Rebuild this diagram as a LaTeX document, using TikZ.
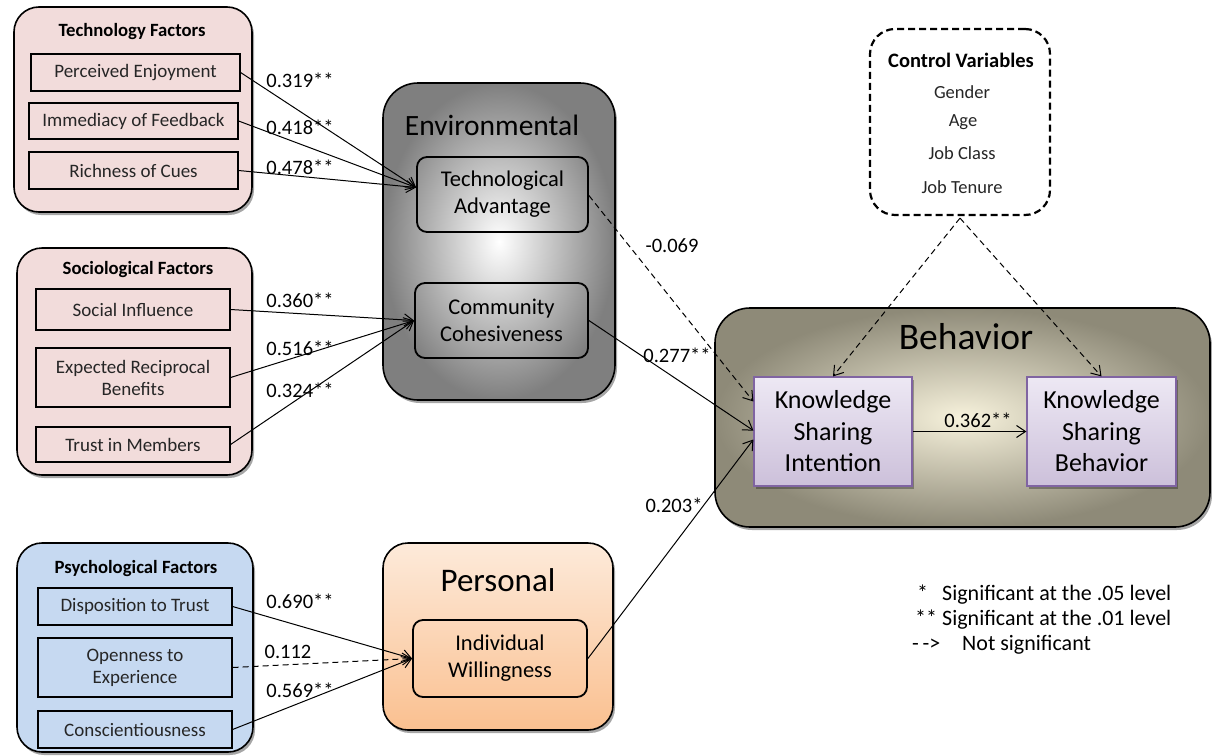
\documentclass[tikz,border=0pt]{standalone}
\usepackage{fontspec}
\setmainfont{Carlito}
\usetikzlibrary{arrows.meta,shadows}
\definecolor{pinkf}{HTML}{F2DCDB}
\definecolor{bluef}{HTML}{C6D9F1}
\definecolor{purpb}{HTML}{8064A2}
\definecolor{purpt}{HTML}{EDE8F4}
\definecolor{purpd}{HTML}{CCC0DA}
\definecolor{orat}{HTML}{FDEADA}
\definecolor{orab}{HTML}{FAC090}
\definecolor{envo}{HTML}{7F7F7F}
\definecolor{behi}{HTML}{F7F2DC}
\definecolor{beho}{HTML}{8E8A78}
\definecolor{txt}{HTML}{262626}
\begin{document}
\begin{tikzpicture}[x=1pt,y=-1pt,
  group/.style={draw, line width=1.6pt, rounded corners=25pt, inner sep=0pt,
    drop shadow={shadow xshift=2pt, shadow yshift=-3pt, opacity=0.35, fill=black}},
  item/.style={draw, line width=1.2pt, inner sep=0pt, align=center, text=txt,
    font=\fontsize{19}{22}\selectfont},
  ttl/.style={font=\bfseries\fontsize{18.7}{22}\selectfont, inner sep=0pt},
  inbox/.style={draw, line width=1.8pt, rounded corners=10pt, inner sep=0pt, align=center,
    font=\fontsize{22.5}{27}\selectfont},
  ksbox/.style={draw=purpb, line width=1.2pt, inner sep=0pt, align=center,
    top color=purpt, bottom color=purpd, font=\fontsize{26}{31.5}\selectfont,
    drop shadow={shadow xshift=2pt, shadow yshift=-3pt, opacity=0.3, fill=black}},
  big/.style={inner sep=0pt},
  lab/.style={inner sep=0pt, font=\fontsize{20.5}{23}\selectfont},
  leg/.style={inner sep=0pt, font=\fontsize{22}{24}\selectfont},
  arr/.style={line width=1pt, -{Straight Barb[length=9pt,width=12pt,line width=1pt]}},
  darr/.style={arr, dash pattern=on 6pt off 4pt},
  cv/.style={inner sep=0pt, text=txt, font=\fontsize{18.5}{21}\selectfont}
]
\useasboundingbox (0,0) rectangle (1212,755);

% ---- Technology factors
\node[group, fill=pinkf, minimum width=238pt, minimum height=205pt] (tech) at (133,109.5) {};
\node[ttl] (techt) at (132,32) {Technology Factors};
\node[item, fill=pinkf, minimum width=209pt, minimum height=37pt] (pe) at (135.5,72.5) {Perceived Enjoyment};
\node[item, fill=pinkf, minimum width=209pt, minimum height=36pt] (iof) at (133.5,121) {Immediacy of Feedback};
\node[item, fill=pinkf, minimum width=209pt, minimum height=37pt] (roc) at (133.5,170.5) {Richness of Cues};

% ---- Sociological factors
\node[group, fill=pinkf, minimum width=235pt, minimum height=227pt] (soc) at (134.5,361.5) {};
\node[ttl] (soct) at (138,270) {Sociological Factors};
\node[item, fill=pinkf, minimum width=194pt, minimum height=41pt] (si) at (133,309.5) {Social Influence};
\node[item, fill=pinkf, minimum width=194pt, minimum height=59pt] (erb) at (133,377.5) {Expected Reciprocal\\Benefits};
\node[item, fill=pinkf, minimum width=194pt, minimum height=35pt] (tim) at (133,444.5) {Trust in Members};

% ---- Psychological factors
\node[group, fill=bluef, minimum width=236pt, minimum height=209pt] (psy) at (135,647.5) {};
\node[ttl] (psyt) at (136,569) {Psychological Factors};
\node[item, fill=bluef, minimum width=194pt, minimum height=37pt] (dtt) at (135,606.5) {Disposition to Trust};
\node[item, fill=bluef, minimum width=194pt, minimum height=59pt] (ote) at (135,667.5) {Openness to\\Experience};
\node[item, fill=bluef, minimum width=194pt, minimum height=37pt] (con) at (135,729.5) {Conscientiousness};

% ---- Environmental
\node[group, rounded corners=35pt, inner color=white, outer color=envo, minimum width=232pt, minimum height=317pt] (env) at (499,241.5) {};
\node[big, font=\fontsize{29.5}{32}\selectfont] (envt) at (492,125) {Environmental};
\node[inbox, minimum width=171pt, minimum height=75pt] (ta) at (502.5,194.5) {Technological\\Advantage};
\node[inbox, minimum width=173pt, minimum height=75pt] (cc) at (501.5,320.5) {Community\\Cohesiveness};

% ---- Personal
\node[group, top color=orat, bottom color=orab, minimum width=230pt, minimum height=187pt] (per) at (498,636.5) {};
\node[big, font=\fontsize{33}{36}\selectfont] (pert) at (498,580) {Personal};
\node[inbox, minimum width=174pt, minimum height=77pt] (iw) at (500,658.5) {Individual\\Willingness};

% ---- Behavior
\node[group, rounded corners=35pt, inner color=behi, outer color=beho, minimum width=495pt, minimum height=219pt] (beh) at (962.5,417.5) {};
\node[big, font=\fontsize{37.5}{40}\selectfont] (beht) at (966,337) {Behavior};
\node[ksbox, minimum width=158pt, minimum height=109pt] (ksi) at (833,431.5) {Knowledge\\Sharing\\Intention};
\node[ksbox, minimum width=149pt, minimum height=109pt] (ksb) at (1101.5,431.5) {Knowledge\\Sharing\\Behavior};

% ---- Control variables
\node[draw, fill=white, line width=2.2pt, dash pattern=on 7pt off 4pt, rounded corners=25pt,
  minimum width=180pt, minimum height=186pt] (ctl) at (960,122) {};
\node[ttl, font=\bfseries\fontsize{20.5}{23}\selectfont] (ctlt) at (961,60) {Control Variables};
\node[cv] (gen) at (962,92) {Gender};
\node[cv] (age) at (963,122) {Age};
\node[cv] (jc) at (962,153) {Job Class};
\node[cv] (jt) at (962,187) {Job Tenure};

% ---- Connectors
\coordinate (taIn) at ([yshift=7pt]ta.west);
\coordinate (ccIn) at (cc.west);
\draw[arr] (pe.east) -- (taIn);
\draw[arr] (iof.east) -- (taIn);
\draw[arr] (roc.east) -- (taIn);
\node[lab] (l1) at (300,80) {0.319**};
\node[lab] (l2) at (300,127) {0.418**};
\node[lab] (l3) at (300,167.5) {0.478**};

\draw[arr] (si.east) -- (ccIn);
\draw[arr] (erb.east) -- (ccIn);
\draw[arr] (tim.east) -- (ccIn);
\node[lab] (l4) at (300,300.5) {0.360**};
\node[lab] (l5) at (300,348.5) {0.516**};
\node[lab] (l6) at (300,390) {0.324**};

\draw[arr] (dtt.east) -- (iw.west);
\draw[darr] (ote.east) -- (iw.west);
\draw[arr] (con.east) -- (iw.west);
\node[lab] (l7) at (300,601) {0.690**};
\node[lab] (l8) at (288,652) {0.112};
\node[lab] (l9) at (300,690) {0.569**};

\draw[darr] ([yshift=-1pt]ta.east) -- ([yshift=30pt]ksi.west);
\node[lab] (l10) at (672,246) {-0.069};
\draw[arr] (cc.east) -- ([yshift=1pt]ksi.west);
\node[lab] (l11) at (677,355) {0.277**};
\draw[arr] (iw.east) -- ([yshift=-8pt]ksi.west);
\node[lab] (l12) at (674,505) {0.203*};

\draw[darr] ([yshift=-2pt]ctl.south) -- (ksi.north);
\draw[darr] ([yshift=-2pt]ctl.south) -- (ksb.north);

\draw[arr] (ksi.east) -- (ksb.west);
\node[lab] (l13) at (978,420) {0.362**};

% ---- Legend
\node[leg, anchor=west] (lg1) at (915,595) {\makebox[27pt][l]{\hspace{2pt}*}Significant at the .05 level};
\node[leg, anchor=west] (lg2) at (915,620) {\makebox[27pt][l]{**}Significant at the .01 level};
\node[leg, anchor=west] (lg3) at (912,645) {\makebox[50pt][l]{-\,->}Not significant};
\end{tikzpicture}
\end{document}
